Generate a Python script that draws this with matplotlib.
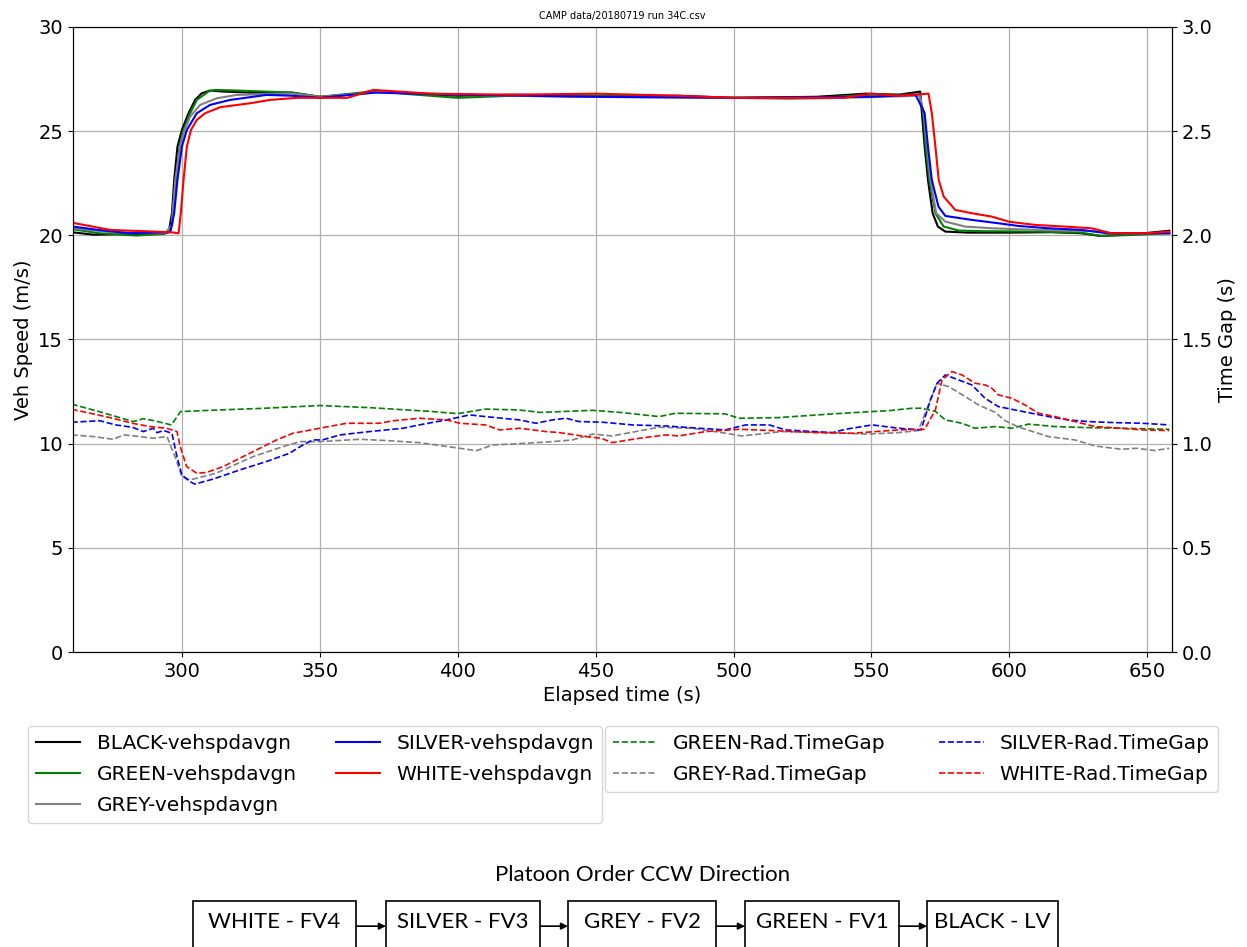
"""
Platoon speed and time-gap chart (CAMP run 34C)
"""

import matplotlib
matplotlib.use('Agg')
import matplotlib.pyplot as plt
from matplotlib.patches import Rectangle, FancyArrowPatch

# ---- speed data (m/s) ----
black_t = [260, 268, 280, 293, 295.2, 296.4, 297.2, 298.4, 300, 302.4, 304.8, 307.2, 310.2, 315, 325, 340,
           350, 360, 372, 385, 400, 420, 450, 480, 500, 530, 548, 560, 567.7, 568.3, 569.3, 570.5, 572.2,
           574.1, 576.8, 585, 600, 615, 626, 633, 645, 658]
black_spd = [20.15, 20.03, 20.06, 20.06, 20.15, 21.06, 22.66, 24.26, 25.06, 25.86, 26.5, 26.82, 26.95, 26.9,
             26.85, 26.85, 26.65, 26.75, 26.9, 26.8, 26.7, 26.75, 26.7, 26.7, 26.6, 26.65, 26.8, 26.75, 26.9,
             25.86, 24.26, 22.66, 21.06, 20.42, 20.18, 20.13, 20.13, 20.15, 20.1, 19.97, 20.05, 20.22]

green_t = [260, 270, 283.6, 294, 296.5, 297.9, 299.1, 300.6, 303, 305.4, 309.6, 312, 320, 340, 350, 365, 370,
           380, 400, 420, 460, 500, 530, 550, 567.5, 568.8, 569.7, 571, 573.2, 576.2, 581.7, 590, 610, 626,
           633.4, 645, 658]
green_spd = [20.3, 20.1, 19.99, 20.08, 20.5, 22.66, 24.26, 25.06, 25.86, 26.5, 26.9, 26.98, 26.95, 26.85,
             26.65, 26.85, 26.95, 26.8, 26.6, 26.7, 26.7, 26.6, 26.6, 26.75, 26.75, 25.86, 24.26, 22.66, 21.06,
             20.42, 20.23, 20.2, 20.18, 20.13, 19.97, 20.02, 20.1]

grey_t = [260, 274, 294, 296.3, 297.6, 299.3, 301, 303, 306.6, 312.7, 319.9, 340, 350, 365, 372, 400, 440,
          500, 520, 540, 567.5, 569, 570.2, 571.4, 573.5, 576.8, 584, 593.6, 610, 630, 636, 658]
grey_spd = [20.35, 20.15, 20.1, 20.5, 22.66, 24.26, 25.06, 25.7, 26.26, 26.58, 26.74, 26.8, 26.65, 26.8, 26.9,
            26.75, 26.65, 26.6, 26.55, 26.6, 26.7, 25.86, 24.26, 22.66, 21.06, 20.66, 20.42, 20.34, 20.26,
            20.2, 20.1, 20.1]

silver_t = [260, 269, 281, 295.8, 297.2, 298.4, 300, 301.8, 305.4, 310.2, 317.5, 330.7, 340, 350, 370, 400,
            450, 500, 550, 566, 569.3, 570.5, 571.9, 574.3, 576.8, 586.4, 596, 603.3, 614.1, 626.2, 635.8, 658]
silver_spd = [20.43, 20.27, 20.1, 20.15, 21.06, 22.66, 24.26, 25.06, 25.86, 26.26, 26.5, 26.74, 26.7, 26.6,
              26.85, 26.75, 26.65, 26.6, 26.65, 26.75, 25.86, 24.26, 22.66, 21.38, 20.93, 20.74, 20.58, 20.45,
              20.34, 20.26, 20.1, 20.1]

white_t = [260, 274, 296, 298.8, 299.6, 300.6, 301.8, 303.3, 305.4, 308.4, 313.9, 324.7, 332, 341.7, 350, 360,
           369.4, 390, 420, 450, 480, 500, 540, 550, 560, 570.7, 571.9, 573.2, 574.4, 576.2, 580.4, 586.4,
           593.6, 600, 609.3, 620.2, 629.7, 637, 650, 658]
white_spd = [20.61, 20.26, 20.15, 20.1, 21.06, 22.66, 24.26, 25.06, 25.54, 25.86, 26.15, 26.34, 26.5, 26.6,
             26.6, 26.6, 26.98, 26.8, 26.75, 26.8, 26.7, 26.6, 26.6, 26.8, 26.7, 26.8, 25.86, 24.26, 22.66,
             21.86, 21.22, 21.06, 20.9, 20.65, 20.5, 20.42, 20.34, 20.1, 20.1, 20.18]

# ---- radar time gap data (s) ----
green_gap_t = [260, 271, 282.4, 286, 290, 296.2, 299.5, 310, 330, 350, 368, 390, 400, 410, 422, 430, 449, 459,
               473, 479, 497, 502, 516, 536, 550, 556, 564.6, 568, 573.2, 576.8, 582.8, 587.6, 594.9, 600.9,
               607, 616.6, 628.6, 640.7, 658]
green_gap = [1.190, 1.150, 1.106, 1.120, 1.110, 1.090, 1.154, 1.160, 1.170, 1.183, 1.173, 1.155, 1.144, 1.166,
             1.162, 1.150, 1.160, 1.150, 1.130, 1.146, 1.143, 1.122, 1.125, 1.143, 1.154, 1.158, 1.170, 1.170,
             1.155, 1.114, 1.098, 1.074, 1.082, 1.074, 1.094, 1.082, 1.077, 1.074, 1.069]

grey_gap_t = [260, 268, 275, 279, 284.8, 289.6, 294.6, 297.5, 300, 302.9, 312.4, 325.8, 336.7, 342.8, 350,
              364.5, 374, 386, 400.7, 406.7, 412.8, 424.8, 434.5, 441.6, 446.5, 449, 456, 473, 485, 497.2, 503,
              517.6, 535.7, 547.8, 559.8, 567, 570.5, 573.8, 578, 584, 588.8, 594.9, 598.5, 603.3, 614.2,
              623.8, 631, 640.7, 646, 652.7, 658]
grey_gap = [1.042, 1.034, 1.021, 1.042, 1.034, 1.026, 1.034, 0.938, 0.842, 0.826, 0.858, 0.938, 0.986, 1.010,
            1.010, 1.021, 1.015, 1.005, 0.978, 0.966, 0.994, 1.002, 1.010, 1.018, 1.037, 1.046, 1.037, 1.079,
            1.074, 1.050, 1.037, 1.058, 1.053, 1.046, 1.053, 1.063, 1.180, 1.290, 1.274, 1.226, 1.186, 1.150,
            1.110, 1.080, 1.034, 1.018, 0.989, 0.973, 0.978, 0.967, 0.978]

silver_gap_t = [260, 270.3, 276, 282, 286, 289.6, 291, 293.4, 296.4, 298.2, 300, 302.9, 304.7, 311.3, 321,
                330.6, 339, 343.9, 347.5, 351, 357.3, 368, 380.2, 386, 395.9, 404.3, 410, 422.4, 428.4, 434.4,
                439.3, 444, 452.5, 463.4, 475.5, 487.5, 497, 504.4, 512.9, 518.9, 535.8, 540.6, 550.3, 559.9,
                568, 571.4, 573.8, 576.8, 581.6, 586.4, 591.2, 596, 602, 608, 614.2, 621.4, 628.6, 638.3, 648,
                658]
silver_gap = [1.103, 1.110, 1.090, 1.079, 1.058, 1.074, 1.053, 1.063, 1.050, 0.938, 0.850, 0.818, 0.806, 0.830,
              0.874, 0.914, 0.954, 0.994, 1.018, 1.018, 1.042, 1.058, 1.074, 1.090, 1.114, 1.138, 1.130, 1.114,
              1.098, 1.114, 1.122, 1.106, 1.103, 1.090, 1.085, 1.074, 1.066, 1.090, 1.090, 1.066, 1.053, 1.069,
              1.090, 1.074, 1.066, 1.210, 1.290, 1.330, 1.306, 1.282, 1.218, 1.178, 1.162, 1.146, 1.130, 1.114,
              1.106, 1.101, 1.098, 1.090]

white_gap_t = [260, 266.7, 275, 282, 288.4, 294.4, 298.2, 299.4, 301.7, 305.4, 309, 315, 322.2, 328.3, 334.3,
               340.3, 350, 359.7, 371.7, 376.6, 386.2, 395.9, 400.7, 410, 415.2, 422.4, 432, 437, 446.5, 452,
               456, 465.8, 475.5, 480, 489.9, 502, 514, 529.7, 543, 559.9, 569.3, 573.2, 575.6, 579.2, 582.8,
               587.6, 591.2, 593.7, 596, 600.9, 605.7, 610.5, 616.6, 623.8, 631, 640.7, 648, 658]
white_gap = [1.165, 1.146, 1.122, 1.098, 1.082, 1.074, 1.058, 0.986, 0.890, 0.858, 0.862, 0.890, 0.938, 0.978,
             1.018, 1.050, 1.074, 1.098, 1.098, 1.110, 1.122, 1.114, 1.098, 1.090, 1.066, 1.074, 1.058, 1.053,
             1.034, 1.026, 1.005, 1.026, 1.042, 1.037, 1.058, 1.069, 1.063, 1.053, 1.050, 1.066, 1.069, 1.162,
             1.306, 1.346, 1.330, 1.290, 1.282, 1.266, 1.234, 1.218, 1.186, 1.146, 1.130, 1.106, 1.082, 1.074,
             1.066, 1.063]

platoon_labels = ['WHITE - FV4', 'SILVER - FV3', 'GREY - FV2', 'GREEN - FV1', 'BLACK - LV']


def main():
    fig = plt.figure(figsize=(12.47, 9.47), dpi=100)
    ax = fig.add_axes([0.0585, 0.3115, 0.8814, 0.66])
    ax2 = ax.twinx()

    # vehicle speeds
    ax.plot(black_t, black_spd, color='black', lw=1.5, label='BLACK-vehspdavgn')
    ax.plot(green_t, green_spd, color='green', lw=1.5, label='GREEN-vehspdavgn')
    ax.plot(grey_t, grey_spd, color='grey', lw=1.5, label='GREY-vehspdavgn')
    ax.plot(silver_t, silver_spd, color='blue', lw=1.5, label='SILVER-vehspdavgn')
    ax.plot(white_t, white_spd, color='red', lw=1.5, label='WHITE-vehspdavgn')

    # time gaps
    ax2.plot(green_gap_t, green_gap, '--', color='green', lw=1.2, label='GREEN-Rad.TimeGap')
    ax2.plot(grey_gap_t, grey_gap, '--', color='grey', lw=1.2, label='GREY-Rad.TimeGap')
    ax2.plot(silver_gap_t, silver_gap, '--', color='blue', lw=1.2, label='SILVER-Rad.TimeGap')
    ax2.plot(white_gap_t, white_gap, '--', color='red', lw=1.2, label='WHITE-Rad.TimeGap')

    ax.set_xlim(260.5, 659)
    ax.set_ylim(0, 30)
    ax2.set_ylim(0, 3.0)
    ax.set_xticks([300, 350, 400, 450, 500, 550, 600, 650])
    ax2.set_yticks([0, 0.5, 1.0, 1.5, 2.0, 2.5, 3.0])
    ax.grid(True, color='#b0b0b0', lw=0.9)
    ax.tick_params(labelsize=14)
    ax2.tick_params(labelsize=14)
    ax.set_xlabel('Elapsed time (s)', fontsize=14)
    ax.set_ylabel('Veh Speed (m/s)', fontsize=14)
    ax2.set_ylabel('Time Gap (s)', fontsize=14)
    ax.set_title('CAMP data/20180719 run 34C.csv', fontsize=7)

    ax.legend(ncol=2, fontsize=14.5, loc='upper left', bbox_to_anchor=(0.0225, 0.2334),
              bbox_transform=fig.transFigure, borderaxespad=0, columnspacing=1.95,
              labelspacing=0.6, handlelength=2.2)
    ax2.legend(ncol=2, fontsize=14.5, loc='upper left', bbox_to_anchor=(0.485, 0.2334),
               bbox_transform=fig.transFigure, borderaxespad=0, columnspacing=2.65,
               labelspacing=0.6, handlelength=2.2)

    # platoon order diagram
    fig.text(0.515, 0.076, 'Platoon Order CCW Direction', fontsize=16, family='Lato',
             ha='center', va='center')
    box_x = [(0.1548, 0.2855), (0.3095, 0.4330), (0.4555, 0.5742), (0.5974, 0.7209), (0.7434, 0.8484)]
    for i, (x0, x1) in enumerate(box_x):
        fig.patches.append(Rectangle((x0, -0.01), x1 - x0, 0.0586, transform=fig.transFigure,
                                     fill=False, edgecolor='black', lw=1.2))
        fig.text((x0 + x1) / 2, 0.026, platoon_labels[i], fontsize=16, family='Lato',
                 ha='center', va='center')
        if i < len(box_x) - 1:
            fig.add_artist(FancyArrowPatch(
                (x1, 0.022), (box_x[i + 1][0], 0.022), transform=fig.transFigure,
                arrowstyle='-|>', mutation_scale=10, color='black', lw=1.2,
                shrinkA=0, shrinkB=0))

    fig.savefig('out.png', dpi=100)
    plt.close(fig)


if __name__ == "__main__":
    main()
